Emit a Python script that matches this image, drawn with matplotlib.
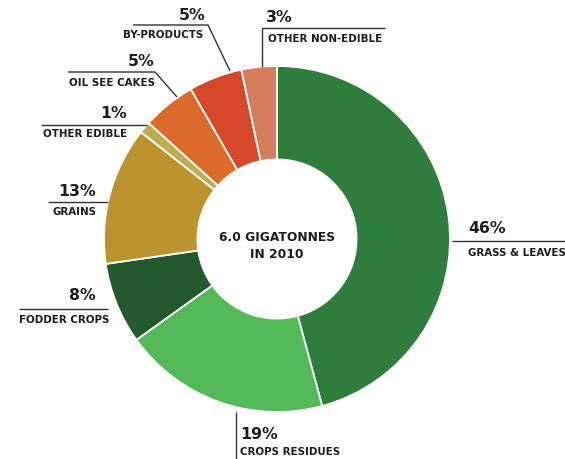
import matplotlib.pyplot as plt

# slices, clockwise from 12 o'clock
labels = ["GRASS & LEAVES", "CROPS RESIDUES", "FODDER CROPS", "GRAINS",
          "OTHER EDIBLE", "OIL SEE CAKES", "BY-PRODUCTS", "OTHER NON-EDIBLE"]
shares = [45.8, 19.3, 7.6, 12.9, 1.1, 5.0, 5.0, 3.3]
pct_text = ["46%", "19%", "8%", "13%", "1%", "5%", "5%", "3%"]
colors = ["#2e7d3c", "#54b958", "#24592d", "#bb9430",
          "#bfac4e", "#dc6a2b", "#d5482a", "#d57d5d"]

W, H = 565, 460
fig = plt.figure(figsize=(W / 100, H / 100), dpi=100)
ax = fig.add_axes([0, 0, 1, 1])

cx, cy, r = 277, H - 240, 173
ax.pie(shares, colors=colors, startangle=90, counterclock=False,
       center=(cx, cy), radius=r, frame=True,
       wedgeprops=dict(width=r * 0.54, edgecolor="white", linewidth=1.3))
ax.set_xlim(0, W)
ax.set_ylim(0, H)
ax.set_aspect("equal")
ax.axis("off")

ink = "#1c1c1c"
line_c = "#333333"
font = "DejaVu Sans"

def y(v):
    return H - v

# leader lines and text positions, in pixel coords (image y downwards)
# (path points, pct anchor, label anchor, alignment)
layout = {
    "GRASS & LEAVES": ([(452, 242), (565, 242)], (468, 229), (468, 253), "left"),
    "CROPS RESIDUES": ([(236, 413), (236, 460)], (240, 435), (240, 452), "left"),
    "FODDER CROPS": ([(19, 310), (108, 310)], (96, 295), (19, 320), "right"),
    "GRAINS": ([(48, 203), (108, 203)], (96, 191), (96, 212), "right"),
    "OTHER EDIBLE": ([(41, 126), (147, 126)], (127, 113), (127, 134), "right"),
    "OIL SEE CAKES": ([(68, 73), (155, 73), (177, 98)], (155, 62), (155, 83), "right"),
    "BY-PRODUCTS": ([(133, 26), (208, 26), (230, 72)], (206, 16), (203, 35), "right"),
    "OTHER NON-EDIBLE": ([(262, 68), (262, 29), (385, 29)], (266, 17), (268, 39), "left"),
}

for name, pct in zip(labels, pct_text):
    pts, pa, la, ha = layout[name]
    ax.plot([p[0] for p in pts], [y(p[1]) for p in pts], color=line_c, lw=1.0,
            solid_capstyle="butt")
    ax.text(pa[0], y(pa[1]), pct, ha=ha, va="center", fontsize=11.3,
            fontweight="bold", color=ink, family=font)
    lha = "left" if name == "FODDER CROPS" else ha
    ax.text(la[0], y(la[1]), name, ha=lha, va="center", fontsize=7.4,
            fontweight="bold", color=ink, family=font)

ax.text(cx, y(238), "6.0 GIGATONNES", ha="center", va="center", fontsize=8.8,
        fontweight="bold", color=ink, family=font)
ax.text(cx, y(255), "IN 2010", ha="center", va="center", fontsize=8.8,
        fontweight="bold", color=ink, family=font)

fig.savefig("out.png", dpi=100)
